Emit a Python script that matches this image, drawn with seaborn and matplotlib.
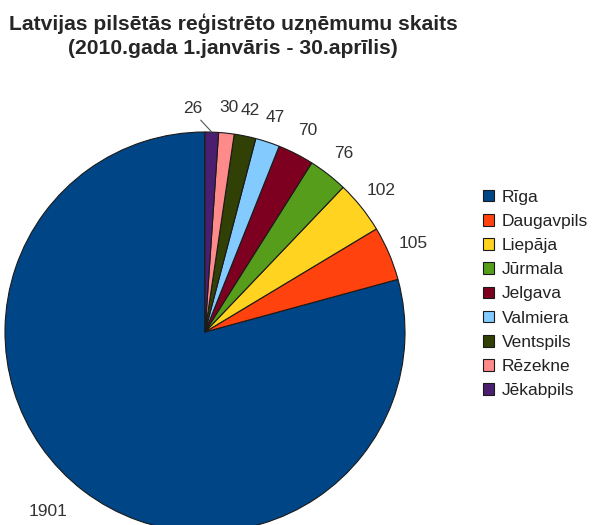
"""
Pie chart of registered companies in Latvian cities (Jan 1 - Apr 30, 2010).
"""

import matplotlib
matplotlib.use("Agg")
import numpy as np
import matplotlib.pyplot as plt
import seaborn as sns

cities = ["Rīga", "Daugavpils", "Liepāja", "Jūrmala", "Jelgava",
          "Valmiera", "Ventspils", "Rēzekne", "Jēkabpils"]
counts = [1901, 105, 102, 76, 70, 47, 42, 30, 26]
colors = ["#004586", "#ff420e", "#ffd320", "#579d1c", "#7e0021",
          "#83caff", "#314004", "#ff8a8a", "#4b1f6f"]

sns.set_theme(style="white")
plt.rcParams["font.family"] = ["Liberation Sans", "DejaVu Sans"]

fig = plt.figure(figsize=(5.93, 5.25), dpi=100)
ax = fig.add_axes([5 / 593, -7 / 525, 400 / 593, 400 / 525])

palette = sns.color_palette(colors)
wedges, texts = ax.pie(
    counts,
    labels=[str(c) for c in counts],
    colors=palette,
    startangle=90,
    labeldistance=1.13,
    wedgeprops={"edgecolor": "#1a1a1a", "linewidth": 0.8},
    textprops={"fontsize": 12.5, "color": "#333333"},
)
# small slices: center labels over their slice
for t in texts[1:]:
    t.set_horizontalalignment("center")

# the smallest slice label is pushed left, with a short leader line
w = wedges[-1]
mid = np.deg2rad((w.theta1 + w.theta2) / 2)
x0, y0 = texts[-1].get_position()
texts[-1].set_position((x0 - 0.1, y0 - 0.01))
ax.plot([np.cos(mid), x0 - 0.06], [np.sin(mid), y0 - 0.07],
        color="#555555", lw=0.8, clip_on=False)

ax.set_xlim(-1, 1)
ax.set_ylim(-1, 1)
ax.set_aspect("equal")

leg = fig.legend(
    wedges, cities,
    loc="upper left",
    bbox_to_anchor=(467 / 593, 1 - 174 / 525),
    frameon=False,
    fontsize=12.5,
    handlelength=0.65,
    handleheight=0.65,
    handletextpad=0.45,
    labelspacing=0.53,
    labelcolor="#222222",
)

fig.text(233 / 593, 1 - 13 / 525,
         "Latvijas pilsētās reģistrēto uzņēmumu skaits\n"
         "(2010.gada 1.janvāris - 30.aprīlis)",
         ha="center", va="top", fontsize=15.2, fontweight="bold",
         linespacing=1.4)

fig.savefig("out.png", dpi=100)
plt.close(fig)
